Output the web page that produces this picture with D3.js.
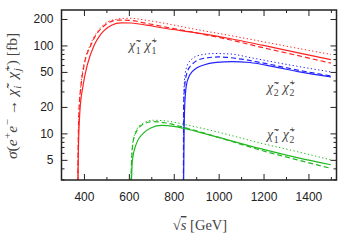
<!DOCTYPE html>
<html>
<head>
<meta charset="utf-8">
<script src="https://cdn.jsdelivr.net/npm/d3@7"></script>
<style>
  body { margin: 0; background: #fff; }
  .tick text { font-family: "Liberation Sans", Arial, sans-serif; font-size: 12px; fill: #222; }
  .tick line { stroke: #222; stroke-width: 1; }
  .lbl text { font-family: "Liberation Serif", "DejaVu Serif", serif; fill: #444; white-space: pre; }
</style>
</head>
<body>
<div id="chart"></div>
<script>
// chi1- chi1+ (red)
var redSolidX  = [372, 375, 382, 396, 415, 446, 471, 523, 565, 610, 680, 752, 900, 1049, 1200, 1350, 1500];
var redSolidY  = [1.5, 6, 18, 35, 60, 101, 130, 170, 181, 180, 170, 158, 139, 120, 100, 83, 69];
var redDashX   = [372, 374, 378, 387, 401, 431, 493, 551, 600, 680, 752, 900, 1049, 1200, 1350, 1500];
var redDashY   = [1.5, 6, 18, 35, 60, 101, 170, 194, 193, 178, 164, 139, 116, 94, 77, 63];
var redDotX    = [372, 374, 378, 386, 399, 428, 485, 530, 600, 680, 752, 900, 1049, 1200, 1350, 1500];
var redDotY    = [1.5, 6, 18, 35, 60, 101, 170, 195, 204, 193, 180, 152, 130, 110, 93, 79];

// chi2- chi2+ (blue)
var blueSolidX = [843, 846, 849, 856, 871, 900, 930, 989, 1060, 1138, 1250, 1360, 1500];
var blueSolidY = [1.5, 10, 21, 35, 46, 55, 59.6, 64.3, 65.5, 64, 57, 50, 44];
var blueDashX  = [843, 844, 849, 858, 879, 930, 1000, 1100, 1227, 1360, 1500];
var blueDashY  = [1.5, 20, 35, 48, 60, 71, 74, 70, 61, 52, 45];
var blueDotX   = [843, 844, 848, 856, 875, 920, 980, 1050, 1150, 1300, 1500];
var blueDotY   = [1.5, 22, 40, 55, 68, 78, 81, 80, 72, 61, 50];

// chi1- chi2+ (green)
var greenSolidX = [609, 612, 616, 634, 664, 700, 745, 800, 840, 1000, 1182, 1350, 1500];
var greenSolidY = [1.5, 3, 5, 7.7, 10, 11.6, 12.3, 12.0, 11.5, 9.0, 6.75, 5.3, 4.4];
var greenDashX  = [609, 611, 618, 630, 660, 707, 760, 840, 1000, 1182, 1350, 1500];
var greenDashY  = [1.5, 4, 7.7, 10, 12.5, 13.6, 13.2, 11.8, 9.0, 6.5, 5.0, 4.0];
var greenDotX   = [609, 611, 617, 628, 655, 710, 770, 850, 1000, 1182, 1350, 1500];
var greenDotY   = [1.5, 4, 7.7, 10, 12.7, 14.1, 13.8, 12.6, 10.3, 7.8, 6.2, 5.0];

var xMajor = [400, 600, 800, 1000, 1200, 1400];
var xMinor = [500, 700, 900, 1100, 1300, 1500];
var yMajor = [5, 10, 20, 50, 100, 200];
var yMinor = [3, 4, 6, 7, 8, 9, 30, 40, 60, 70, 80, 90];

var W = 342, H = 245;
var mLeft = 61.5, mRight = 336.5, mTop = 10, mBottom = 180;

var svg = d3.select("#chart").append("svg")
  .attr("width", W)
  .attr("height", H);

var x = d3.scaleLinear().domain([300, 1525]).range([mLeft, mRight]);
var y = d3.scaleLog().domain([2.95, 253]).range([mBottom, mTop]);

svg.append("defs").append("clipPath").attr("id", "clip")
  .append("rect")
  .attr("x", mLeft).attr("y", mTop)
  .attr("width", mRight - mLeft).attr("height", mBottom - mTop);

// axes: major with labels, minor without, mirrored on top/right
function drawAxis(axis, tx, ty) {
  var g = svg.append("g")
    .attr("transform", "translate(" + tx + "," + ty + ")")
    .call(axis);
  g.select(".domain").remove();
  return g;
}
drawAxis(d3.axisBottom(x).tickValues(xMajor).tickSize(-6).tickPadding(12).tickFormat(d3.format("d")), 0, mBottom);
drawAxis(d3.axisBottom(x).tickValues(xMinor).tickSize(-3).tickFormat(""), 0, mBottom);
drawAxis(d3.axisTop(x).tickValues(xMajor).tickSize(-6).tickFormat(""), 0, mTop);
drawAxis(d3.axisTop(x).tickValues(xMinor).tickSize(-3).tickFormat(""), 0, mTop);
drawAxis(d3.axisLeft(y).tickValues(yMajor).tickSize(-6).tickPadding(8).tickFormat(d3.format("d")), mLeft, 0);
drawAxis(d3.axisLeft(y).tickValues(yMinor).tickSize(-3).tickFormat(""), mLeft, 0);
drawAxis(d3.axisRight(y).tickValues(yMajor).tickSize(-6).tickFormat(""), mRight, 0);
drawAxis(d3.axisRight(y).tickValues(yMinor).tickSize(-3).tickFormat(""), mRight, 0);

// curves
var line = d3.line()
  .x(function (d) { return x(d[0]); })
  .y(function (d) { return y(d[1]); })
  .curve(d3.curveMonotoneX);

var curves = [
  [redSolidX, redSolidY, "#ff2222", ""],
  [redDashX, redDashY, "#ff2222", "5,3"],
  [redDotX, redDotY, "#ff2222", "1.3,2.4"],
  [blueSolidX, blueSolidY, "#2222ff", ""],
  [blueDashX, blueDashY, "#2222ff", "5,3"],
  [blueDotX, blueDotY, "#2222ff", "1.3,2.4"],
  [greenSolidX, greenSolidY, "#22b822", ""],
  [greenDashX, greenDashY, "#22b822", "5,3"],
  [greenDotX, greenDotY, "#22b822", "1.3,2.4"]
];

var plot = svg.append("g").attr("clip-path", "url(#clip)");
curves.forEach(function (c) {
  var pts = c[0].map(function (v, i) { return [v, c[1][i]]; });
  plot.append("path")
    .datum(pts)
    .attr("d", line)
    .attr("fill", "none")
    .attr("stroke", c[2])
    .attr("stroke-width", c[3] == "1.3,2.4" ? 1 : 1.2)
    .attr("stroke-dasharray", c[3] || null);
});

// frame
svg.append("rect")
  .attr("x", mLeft).attr("y", mTop)
  .attr("width", mRight - mLeft).attr("height", mBottom - mTop)
  .attr("fill", "none")
  .attr("stroke", "#222")
  .attr("stroke-width", 1.5);

// rich text helper: parts = [{t, it, sub, sup}]
function richText(g, parts, size) {
  var cx = 0;
  parts.forEach(function (p) {
    var t = g.append("text").attr("x", cx).attr("y", 0)
      .attr("xml:space", "preserve")
      .style("font-size", size + "px").text(p.t);
    if (p.it) t.style("font-style", "italic");
    if (p.over) t.style("text-decoration", "overline");
    var w = t.node().getComputedTextLength();
    var ws = 0;
    var s = size * 0.7;
    if (p.sup) {
      var a = g.append("text").attr("x", cx + w + 0.5).attr("y", -size * 0.4)
        .style("font-size", s + "px").text(p.sup);
      ws = a.node().getComputedTextLength();
    }
    if (p.sub) {
      var b = g.append("text").attr("x", cx + w + 0.5).attr("y", size * 0.25)
        .style("font-size", s + "px").text(p.sub);
      if (p.subIt) b.style("font-style", "italic");
      ws = Math.max(ws, b.node().getComputedTextLength());
    }
    cx += w + (ws ? ws + 0.5 : 0);
  });
  return cx;
}

function centered(parts, size, cx, cy, rot) {
  var g = svg.append("g").attr("class", "lbl");
  var inner = g.append("g");
  var w = richText(inner, parts, size);
  inner.attr("transform", "translate(" + (-w / 2) + ",0)");
  g.attr("transform", "translate(" + cx + "," + cy + ")" + (rot ? " rotate(" + rot + ")" : ""));
}

var chi = "\u03C7\u0303";
centered([{ t: chi, it: true, sub: "1", sup: "\u2212" }, { t: " " }, { t: chi, it: true, sub: "1", sup: "+" }], 14, 143, 50);
centered([{ t: chi, it: true, sub: "2", sup: "\u2212" }, { t: " " }, { t: chi, it: true, sub: "2", sup: "+" }], 14, 281, 92);
centered([{ t: chi, it: true, sub: "1", sup: "\u2212" }, { t: " " }, { t: chi, it: true, sub: "2", sup: "+" }], 14, 281, 139);

centered([
  { t: "\u03C3", it: true }, { t: "(" }, { t: "e", it: true, sup: "+" }, { t: "e", it: true, sup: "\u2212" },
  { t: " \u2192 " }, { t: chi, it: true, sub: "i", subIt: true, sup: "\u2212" }, { t: " " },
  { t: chi, it: true, sub: "j", subIt: true, sup: "+" }, { t: ") [fb]" }
], 15.5, 17, 96, -90);

centered([{ t: "\u221A" }, { t: "s", it: true, over: true }, { t: " [GeV]" }], 14.5, 200, 230);
</script>
</body>
</html>
